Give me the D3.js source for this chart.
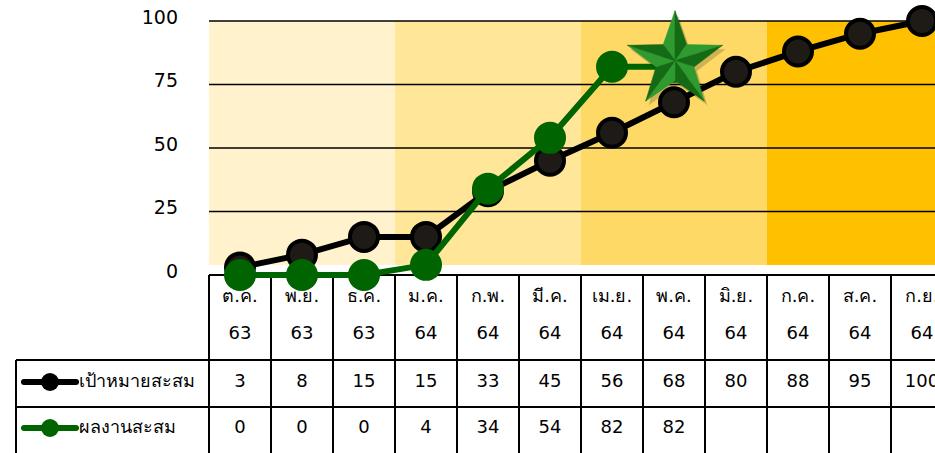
<!DOCTYPE html>
<html>
<head>
<meta charset="utf-8">
<script src="https://cdn.jsdelivr.net/npm/d3@7"></script>
<style>
  body { margin: 0; background: #fff; }
  svg { display: block; }
  text { font-family: Tahoma, Verdana, "DejaVu Sans", sans-serif; }
</style>
</head>
<body>
<script>
var months = ['ต.ค.', 'พ.ย.', 'ธ.ค.', 'ม.ค.', 'ก.พ.', 'มี.ค.', 'เม.ย.', 'พ.ค.', 'มิ.ย.', 'ก.ค.', 'ส.ค.', 'ก.ย.'];
var years = ['63', '63', '63', '64', '64', '64', '64', '64', '64', '64', '64', '64'];
var target = [3, 8, 15, 15, 33, 45, 56, 68, 80, 88, 95, 100];
var actual = [0, 0, 0, 4, 34, 54, 82, 82];
var yTicks = [0, 25, 50, 75, 100];
var seriesNames = ['เป้าหมายสะสม', 'ผลงานสะสม'];
var bandColors = ['#FFF2CC', '#FFE699', '#FFD966', '#FFC000'];

var W = 935, H = 453;
var colW = 62, left = 209;
var svg = d3.select('body').append('svg').attr('width', W).attr('height', H);

var x = d3.scaleBand().domain(d3.range(12)).range([left, left + colW * 12]);
var y = d3.scaleLinear().domain([0, 100]).range([275, 21]);
var cx = function (i) { return x(i) + x.bandwidth() / 2; };

// quarter background bands
svg.selectAll('rect.band').data(bandColors).enter().append('rect')
  .attr('x', function (c, q) { return x(q * 3); })
  .attr('y', y(100))
  .attr('width', x.bandwidth() * 3)
  .attr('height', 265 - y(100))
  .attr('fill', function (c) { return c; });

// grid + y labels
svg.selectAll('line.grid').data(yTicks.slice(1)).enter().append('line')
  .attr('x1', left).attr('x2', W)
  .attr('y1', function (d) { return y(d); }).attr('y2', function (d) { return y(d); })
  .attr('stroke', '#000').attr('stroke-width', 1.5);
svg.selectAll('text.ytick').data(yTicks).enter().append('text')
  .attr('x', 178).attr('y', function (d) { return y(d) - 3; })
  .attr('text-anchor', 'end').attr('dominant-baseline', 'middle')
  .attr('font-size', 19).attr('fill', '#000')
  .text(function (d) { return d; });

// table
var tbl = svg.append('g');
var rowY = [275, 360, 407, 460];
tbl.append('line').attr('x1', left).attr('x2', W).attr('y1', rowY[0]).attr('y2', rowY[0]).attr('stroke', '#000').attr('stroke-width', 2);
tbl.append('line').attr('x1', 16).attr('x2', W).attr('y1', rowY[1]).attr('y2', rowY[1]).attr('stroke', '#000').attr('stroke-width', 2);
tbl.append('line').attr('x1', 16).attr('x2', W).attr('y1', rowY[2]).attr('y2', rowY[2]).attr('stroke', '#000').attr('stroke-width', 2);
tbl.append('line').attr('x1', 16).attr('x2', 16).attr('y1', rowY[1]).attr('y2', H).attr('stroke', '#000').attr('stroke-width', 2);
tbl.selectAll('line.col').data(d3.range(13)).enter().append('line')
  .attr('x1', function (i) { return left + i * colW; }).attr('x2', function (i) { return left + i * colW; })
  .attr('y1', rowY[0]).attr('y2', H)
  .attr('stroke', '#000').attr('stroke-width', 2);

function cellText(arr, yy) {
  tbl.append('g').selectAll('text').data(arr).enter().append('text')
    .attr('x', function (d, i) { return cx(i); }).attr('y', yy)
    .attr('text-anchor', 'middle').attr('dominant-baseline', 'middle')
    .attr('font-size', 18).attr('fill', '#000')
    .text(function (d) { return d; });
}
cellText(months, 297);
cellText(years, 334);
cellText(target, 382);
cellText(actual, 428);

// legend cells
var legColors = ['#000000', '#006400'];
seriesNames.forEach(function (name, k) {
  var ly = k === 0 ? 382 : 428;
  tbl.append('line').attr('x1', 24).attr('x2', 76).attr('y1', ly).attr('y2', ly)
    .attr('stroke', legColors[k]).attr('stroke-width', 6).attr('stroke-linecap', 'round');
  tbl.append('circle').attr('cx', 50).attr('cy', ly).attr('r', 9).attr('fill', legColors[k]);
  tbl.append('text').attr('x', 79).attr('y', ly).attr('dominant-baseline', 'middle')
    .attr('font-size', 18).attr('fill', '#000').text(name);
});

// lines
var line = d3.line().x(function (d, i) { return cx(i); }).y(function (d) { return y(d); });
svg.append('path').attr('d', line(target)).attr('fill', 'none').attr('stroke', '#000').attr('stroke-width', 6);
svg.append('g').selectAll('circle').data(target).enter().append('circle')
  .attr('cx', function (d, i) { return cx(i); }).attr('cy', function (d) { return y(d); })
  .attr('r', 14).attr('fill', '#1e1b16').attr('stroke', '#000').attr('stroke-width', 4);

svg.append('path').attr('d', line(actual)).attr('fill', 'none').attr('stroke', '#006400').attr('stroke-width', 6);
svg.append('g').selectAll('circle').data(actual).enter().append('circle')
  .attr('cx', function (d, i) { return cx(i); }).attr('cy', function (d) { return y(d); })
  .attr('r', 16).attr('fill', '#006400');

// star on the latest actual point
var last = actual.length - 1;
var sx = cx(last) + 1, sy = y(actual[last]) - 6, R = 50, r = 20;
var outer = d3.range(5).map(function (k) {
  var a = -Math.PI / 2 + k * 2 * Math.PI / 5;
  return [sx + R * Math.cos(a), sy + R * Math.sin(a)];
});
var inner = d3.range(5).map(function (k) {
  var a = -Math.PI / 2 + Math.PI / 5 + k * 2 * Math.PI / 5;
  return [sx + r * Math.cos(a), sy + r * Math.sin(a)];
});
var facets = [];
for (var k = 0; k < 5; k++) {
  facets.push({ p: [[sx, sy], outer[k], inner[(k + 4) % 5]], c: '#2f9a2f' });
  facets.push({ p: [[sx, sy], outer[k], inner[k]], c: '#156b15' });
}
var star = svg.append('g');
star.append('path')
  .attr('d', 'M' + d3.range(10).map(function (j) { var p = j % 2 ? inner[(j - 1) / 2] : outer[j / 2]; return (p[0] + 3) + ',' + (p[1] + 4); }).join('L') + 'Z')
  .attr('fill', 'rgba(0,0,0,0.18)');
star.selectAll('path.f').data(facets).enter().append('path')
  .attr('d', function (f) { return 'M' + f.p.join('L') + 'Z'; })
  .attr('fill', function (f) { return f.c; })
  .attr('stroke', function (f) { return f.c; }).attr('stroke-width', 0.5);
</script>
</body>
</html>
